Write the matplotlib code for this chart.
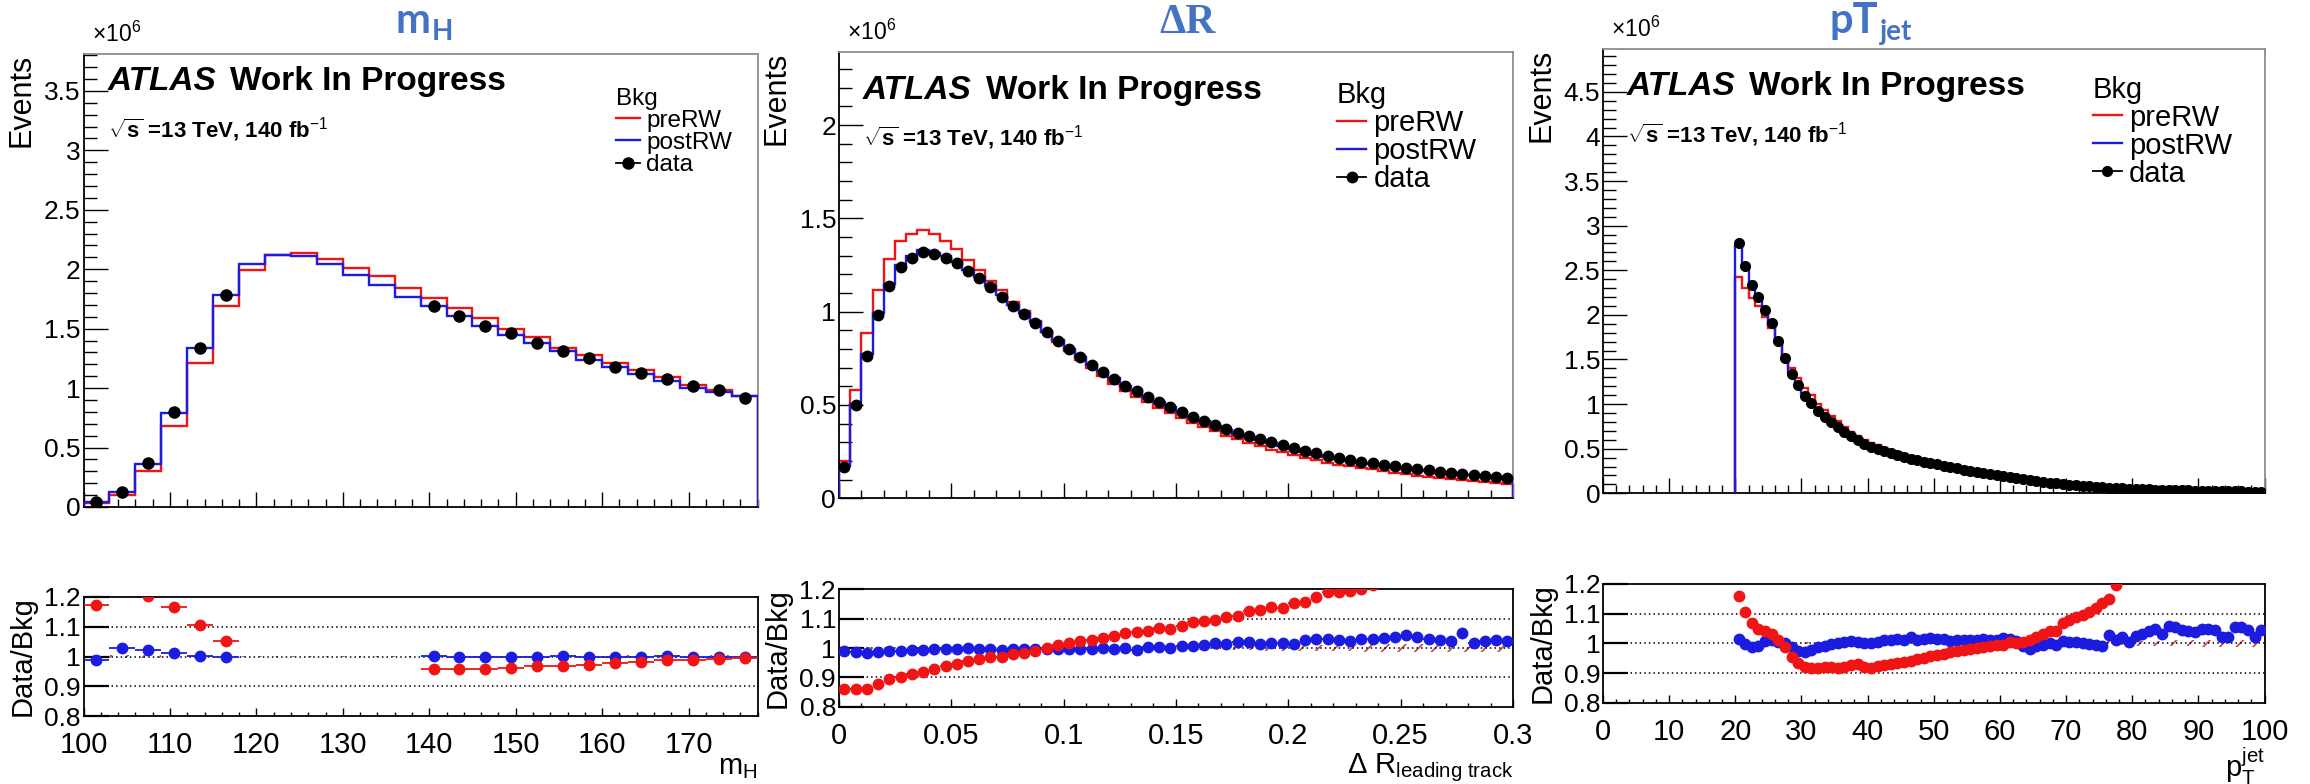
import numpy as np
import matplotlib

matplotlib.use("Agg")
import matplotlib.pyplot as plt
from matplotlib.lines import Line2D
from matplotlib.ticker import FuncFormatter, MultipleLocator

plt.rcParams["font.family"] = ["Liberation Sans", "DejaVu Sans"]
plt.rcParams["mathtext.fontset"] = "custom"
plt.rcParams["mathtext.rm"] = "Liberation Sans"
plt.rcParams["mathtext.it"] = "Liberation Sans:italic"
plt.rcParams["mathtext.bf"] = "Liberation Sans:bold"
plt.rcParams["hatch.linewidth"] = 1.2

RED = "#f01414"
BLUE = "#1c1ce0"
TITLE_BLUE = "#4472c4"
BAND = "#c04848"
NAN = np.nan

# ---- m_H: 26 bins of 3 GeV from 100 to 178 (events in units of 1e6) ----
mh_edges = np.arange(100, 179, 3)
mh_pre = [0.03, 0.10, 0.30, 0.68, 1.21, 1.69, 1.99, 2.12, 2.14, 2.09, 2.01, 1.94, 1.84,
          1.76, 1.67, 1.59, 1.50, 1.43, 1.34, 1.28, 1.21, 1.15, 1.09, 1.03, 0.98, 0.93]
mh_post = [0.04, 0.13, 0.36, 0.79, 1.34, 1.78, 2.04, 2.12, 2.11, 2.04, 1.95, 1.87, 1.77,
           1.69, 1.61, 1.52, 1.45, 1.38, 1.31, 1.24, 1.18, 1.12, 1.06, 1.00, 0.97, 0.93]
mh_data = [0.04, 0.13, 0.37, 0.80, 1.34, 1.78, NAN, NAN, NAN, NAN, NAN, NAN, NAN,
           1.69, 1.61, 1.52, 1.46, 1.38, 1.31, 1.25, 1.18, 1.13, 1.08, 1.02, 0.98, 0.92]
mh_ratio_pre = [1.172, 1.30, 1.205, 1.165, 1.106, 1.052, NAN, NAN, NAN, NAN, NAN, NAN, NAN,
                0.959, 0.959, 0.959, 0.963, 0.968, 0.968, 0.973, 0.979, 0.982, 0.989, 0.989,
                0.992, 0.996]
mh_ratio_post = [0.989, 1.027, 1.023, 1.012, 1.002, 0.997, NAN, NAN, NAN, NAN, NAN, NAN, NAN,
                 1.002, 0.997, 0.997, 0.997, 0.997, 1.003, 0.997, 0.997, 0.997, 1.003, 0.997,
                 0.997, 0.997]
mh_band = [0.004, 0.004, 0.004, 0.003, 0.003, 0.003, 0.003, 0.003, 0.003, 0.003, 0.003, 0.003,
           0.003, 0.003, 0.003, 0.003, 0.003, 0.003, 0.003, 0.003, 0.004, 0.004, 0.004, 0.004,
           0.004, 0.004]

# ---- Delta R: 60 bins of 0.005 from 0 to 0.3 ----
dr_edges = np.linspace(0.0, 0.3, 61)
dr_data = [0.17, 0.50, 0.76, 0.98, 1.14, 1.24, 1.29, 1.32, 1.31, 1.29,
           1.26, 1.22, 1.18, 1.13, 1.08, 1.03, 0.99, 0.94, 0.89, 0.845,
           0.80, 0.755, 0.714, 0.679, 0.64, 0.604, 0.575, 0.545, 0.518, 0.49,
           0.464, 0.438, 0.416, 0.393, 0.371, 0.352, 0.333, 0.316, 0.299, 0.283,
           0.268, 0.254, 0.241, 0.229, 0.218, 0.207, 0.197, 0.188, 0.179, 0.171,
           0.163, 0.156, 0.149, 0.142, 0.136, 0.130, 0.125, 0.120, 0.115, 0.110]
dr_pre = [0.198, 0.580, 0.886, 1.118, 1.280, 1.378, 1.418, 1.436, 1.415, 1.380,
          1.334, 1.277, 1.225, 1.166, 1.115, 1.053, 1.004, 0.948, 0.890, 0.838,
          0.789, 0.740, 0.697, 0.657, 0.615, 0.577, 0.545, 0.514, 0.484, 0.458,
          0.429, 0.403, 0.380, 0.358, 0.335, 0.317, 0.296, 0.279, 0.261, 0.247,
          0.231, 0.217, 0.204, 0.191, 0.181, 0.171, 0.162, 0.155, 0.146, 0.137,
          0.129, 0.122, 0.116, 0.109, 0.103, 0.097, 0.093, 0.088, 0.083, 0.079]
dr_post = [0.172, 0.506, 0.774, 0.994, 1.150, 1.251, 1.299, 1.329, 1.317, 1.296,
           1.264, 1.221, 1.184, 1.136, 1.088, 1.035, 0.993, 0.945, 0.892, 0.849,
           0.802, 0.757, 0.715, 0.680, 0.643, 0.604, 0.579, 0.544, 0.515, 0.490,
           0.461, 0.435, 0.412, 0.387, 0.366, 0.345, 0.326, 0.312, 0.294, 0.278,
           0.264, 0.247, 0.234, 0.222, 0.212, 0.202, 0.191, 0.182, 0.173, 0.165,
           0.156, 0.150, 0.145, 0.138, 0.133, 0.124, 0.123, 0.117, 0.112, 0.108]
dr_ratio_pre = [0.859, 0.859, 0.859, 0.877, 0.893, 0.900, 0.910, 0.919, 0.927, 0.939,
                0.945, 0.956, 0.963, 0.970, 0.968, 0.978, 0.984, 0.991, 1.001, 1.010,
                1.016, 1.024, 1.027, 1.034, 1.041, 1.050, 1.056, 1.057, 1.067, 1.064,
                1.076, 1.087, 1.093, 1.095, 1.107, 1.109, 1.126, 1.130, 1.139, 1.135,
                1.152, 1.158, 1.173, 1.190, 1.190, 1.194, 1.200, 1.215, 1.230, 1.245,
                1.260, 1.275, 1.290, 1.305, 1.320, 1.335, 1.350, 1.365, 1.380, 1.395]
dr_ratio_post = [0.991, 0.988, 0.982, 0.986, 0.991, 0.991, 0.993, 0.993, 0.995, 0.995,
                 0.997, 0.999, 0.997, 0.995, 0.993, 0.995, 0.997, 0.995, 0.998, 0.995,
                 0.997, 0.998, 0.998, 0.999, 0.995, 1.000, 0.993, 1.002, 1.005, 0.999,
                 1.007, 1.007, 1.010, 1.016, 1.014, 1.020, 1.020, 1.014, 1.016, 1.018,
                 1.014, 1.027, 1.032, 1.030, 1.027, 1.025, 1.030, 1.032, 1.033, 1.039,
                 1.043, 1.039, 1.030, 1.027, 1.023, 1.052, 1.016, 1.024, 1.027, 1.023]
dr_band = [0.004, 0.003, 0.003, 0.003, 0.003, 0.003, 0.003, 0.003, 0.003, 0.003,
           0.003, 0.003, 0.003, 0.003, 0.003, 0.004, 0.004, 0.004, 0.004, 0.004,
           0.004, 0.004, 0.005, 0.005, 0.005, 0.005, 0.005, 0.006, 0.006, 0.006,
           0.006, 0.007, 0.007, 0.007, 0.008, 0.008, 0.008, 0.009, 0.009, 0.009,
           0.010, 0.010, 0.010, 0.011, 0.011, 0.011, 0.012, 0.012, 0.012, 0.012,
           0.013, 0.013, 0.013, 0.013, 0.014, 0.014, 0.014, 0.014, 0.015, 0.015]

# ---- pT jet: 80 bins of 1 GeV from 20 to 100 ----
pt_edges = np.arange(20, 101, 1)
pt_data = [2.81, 2.55, 2.34, 2.20, 2.06, 1.91, 1.71, 1.52, 1.34, 1.21,
           1.09, 1.01, 0.92, 0.855, 0.795, 0.742, 0.682, 0.637, 0.592, 0.551,
           0.520, 0.495, 0.470, 0.450, 0.430, 0.410, 0.390, 0.370, 0.355, 0.340,
           0.325, 0.310, 0.295, 0.280, 0.265, 0.250, 0.237, 0.225, 0.212, 0.200,
           0.190, 0.178, 0.167, 0.157, 0.147, 0.137, 0.128, 0.120, 0.112, 0.105,
           0.098, 0.091, 0.085, 0.079, 0.074, 0.069, 0.064, 0.060, 0.056, 0.052,
           0.049, 0.046, 0.044, 0.042, 0.040, 0.038, 0.036, 0.034, 0.032, 0.030,
           0.028, 0.027, 0.026, 0.024, 0.023, 0.022, 0.021, 0.020, 0.019, 0.018]
pt_pre = [2.42, 2.30, 2.19, 2.10, 1.975, 1.853, 1.693, 1.540, 1.403, 1.297,
          1.183, 1.101, 1.003, 0.930, 0.865, 0.809, 0.740, 0.686, 0.637, 0.598,
          0.567, 0.537, 0.506, 0.484, 0.460, 0.437, 0.414, 0.391, 0.373, 0.355,
          0.338, 0.321, 0.304, 0.287, 0.271, 0.255, 0.241, 0.228, 0.214, 0.201,
          0.191, 0.178, 0.167, 0.156, 0.145, 0.134, 0.124, 0.115, 0.108, 0.098,
          0.091, 0.084, 0.078, 0.071, 0.066, 0.061, 0.056, 0.050, 0.046, 0.041,
          0.038, 0.035, 0.033, 0.030, 0.028, 0.026, 0.025, 0.023, 0.021, 0.019,
          0.018, 0.017, 0.016, 0.014, 0.014, 0.013, 0.012, 0.011, 0.010, 0.010]
pt_post = [2.77, 2.56, 2.37, 2.22, 2.045, 1.889, 1.700, 1.520, 1.355, 1.241,
           1.123, 1.033, 0.932, 0.862, 0.797, 0.742, 0.678, 0.632, 0.589, 0.550,
           0.520, 0.492, 0.465, 0.445, 0.424, 0.405, 0.382, 0.366, 0.350, 0.334,
           0.321, 0.306, 0.292, 0.277, 0.262, 0.247, 0.234, 0.222, 0.210, 0.198,
           0.187, 0.175, 0.166, 0.159, 0.150, 0.138, 0.129, 0.120, 0.113, 0.104,
           0.098, 0.091, 0.085, 0.079, 0.074, 0.070, 0.062, 0.059, 0.055, 0.052,
           0.048, 0.045, 0.042, 0.040, 0.039, 0.036, 0.034, 0.033, 0.031, 0.029,
           0.027, 0.026, 0.025, 0.024, 0.023, 0.021, 0.020, 0.019, 0.019, 0.017]
pt_ratio_pre = [1.161, 1.107, 1.067, 1.048, 1.043, 1.031, 1.010, 0.987, 0.955, 0.933,
                0.921, 0.917, 0.917, 0.919, 0.919, 0.917, 0.921, 0.928, 0.930, 0.921,
                0.917, 0.922, 0.928, 0.930, 0.935, 0.938, 0.942, 0.947, 0.952, 0.958,
                0.962, 0.965, 0.970, 0.975, 0.978, 0.981, 0.985, 0.989, 0.992, 0.993,
                0.995, 1.003, 1.002, 1.004, 1.011, 1.022, 1.031, 1.040, 1.040, 1.067,
                1.079, 1.088, 1.096, 1.107, 1.118, 1.135, 1.148, 1.195, 1.230, 1.260,
                1.290, 1.320, 1.350, 1.380, 1.410, 1.440, 1.470, 1.500, 1.530, 1.560,
                1.590, 1.620, 1.650, 1.680, 1.710, 1.740, 1.770, 1.800, 1.830, 1.860]
pt_ratio_post = [1.015, 0.998, 0.989, 0.991, 1.007, 1.011, 1.006, 1.000, 0.989, 0.975,
                 0.971, 0.978, 0.987, 0.992, 0.998, 1.000, 1.006, 1.008, 1.005, 1.002,
                 1.000, 1.006, 1.010, 1.011, 1.014, 1.012, 1.020, 1.012, 1.015, 1.018,
                 1.014, 1.013, 1.009, 1.012, 1.010, 1.012, 1.012, 1.014, 1.012, 1.010,
                 1.018, 1.015, 1.008, 0.990, 0.981, 0.992, 0.995, 1.000, 0.995, 1.008,
                 1.005, 1.003, 1.000, 0.998, 0.995, 0.990, 1.028, 1.010, 1.022, 1.003,
                 1.025, 1.030, 1.040, 1.048, 1.030, 1.060, 1.055, 1.045, 1.040, 1.038,
                 1.048, 1.050, 1.045, 1.020, 1.020, 1.056, 1.055, 1.045, 1.022, 1.045]
pt_band = [0.003, 0.003, 0.003, 0.003, 0.003, 0.003, 0.003, 0.003, 0.003, 0.003,
           0.003, 0.003, 0.003, 0.003, 0.003, 0.003, 0.003, 0.003, 0.003, 0.003,
           0.003, 0.003, 0.003, 0.003, 0.003, 0.003, 0.003, 0.003, 0.003, 0.003,
           0.003, 0.003, 0.003, 0.003, 0.003, 0.003, 0.003, 0.003, 0.003, 0.003,
           0.004, 0.004, 0.004, 0.004, 0.004, 0.004, 0.005, 0.005, 0.005, 0.005,
           0.005, 0.005, 0.006, 0.006, 0.006, 0.006, 0.007, 0.007, 0.007, 0.008,
           0.008, 0.008, 0.009, 0.009, 0.009, 0.010, 0.010, 0.010, 0.010, 0.011,
           0.011, 0.011, 0.011, 0.012, 0.012, 0.012, 0.012, 0.012, 0.012, 0.012]

W, H = 2310, 784


def px_rect(left, right, top, bottom):
    return [left / W, 1 - bottom / H, (right - left) / W, (bottom - top) / H]


PANELS = [
    dict(edges=mh_edges, pre=mh_pre, post=mh_post, data=mh_data,
         r_pre=mh_ratio_pre, r_post=mh_ratio_post, band=mh_band,
         main=px_rect(83.5, 757.7, 54, 507), ratio=px_rect(83.5, 757.7, 597, 716),
         ymax=3.81, xmaj=10, xmin=2, ms=8,
         atlas_y=0.92, sqrts_y=0.815, leg_xy=(0.79, 0.925), leg_fs=17.5,
         xlabel=r"m$_{\mathrm{H}}$", xlabel_y=-0.31),
    dict(edges=dr_edges, pre=dr_pre, post=dr_post, data=dr_data,
         r_pre=dr_ratio_pre, r_post=dr_ratio_post, band=dr_band,
         main=px_rect(838.8, 1513, 51.7, 498.3), ratio=px_rect(838.8, 1513, 589.3, 706.7),
         ymax=2.393, xmaj=0.05, xmin=0.01, ms=7.5,
         atlas_y=0.895, sqrts_y=0.79, leg_xy=(0.739, 0.935), leg_fs=21,
         xlabel=r"$\Delta$ R$_{\mathrm{leading\ track}}$", xlabel_y=-0.38),
    dict(edges=pt_edges, pre=pt_pre, post=pt_post, data=pt_data,
         r_pre=pt_ratio_pre, r_post=pt_ratio_post, band=pt_band,
         main=px_rect(1603, 2264.5, 49, 493.3), ratio=px_rect(1603, 2264.5, 584, 702.7),
         ymax=4.98, xmaj=10, xmin=2, ms=7,
         atlas_y=0.897, sqrts_y=0.79, leg_xy=(0.74, 0.94), leg_fs=21,
         xlabel=r"p$_{\mathrm{T}}^{\mathrm{jet}}$", xlabel_y=-0.36),
]


def g_fmt(v, _):
    return f"{v:g}"


def draw_panel(fig, p):
    ax = fig.add_axes(p["main"])
    rax = fig.add_axes(p["ratio"])
    edges = p["edges"]
    centers = 0.5 * (edges[:-1] + edges[1:])
    half = 0.5 * (edges[1] - edges[0])
    xlo, xhi = edges[0], edges[-1]
    if xlo == 20:
        xlo = 0

    # main panel
    ax.stairs(p["pre"], edges, baseline=0, color=RED, lw=1.7, zorder=2)
    ax.stairs(p["post"], edges, baseline=0, color=BLUE, lw=1.7, zorder=3)
    ax.plot(centers, p["data"], "o", color="black", ms=p["ms"], zorder=5)
    ax.set_xlim(xlo, xhi)
    ax.set_ylim(0, p["ymax"])
    ax.yaxis.set_major_locator(MultipleLocator(0.5))
    ax.yaxis.set_minor_locator(MultipleLocator(0.1))
    ax.yaxis.set_major_formatter(FuncFormatter(g_fmt))
    ax.xaxis.set_major_locator(MultipleLocator(p["xmaj"]))
    ax.xaxis.set_minor_locator(MultipleLocator(p["xmin"]))
    ax.tick_params(axis="y", which="major", direction="in", length=17, width=1.0,
                   labelsize=19, pad=2, right=False)
    ax.tick_params(axis="y", which="minor", direction="in", length=9, width=1.0, right=False)
    ax.tick_params(axis="x", which="major", direction="in", length=11, width=1.0,
                   labelbottom=False, top=False)
    ax.tick_params(axis="x", which="minor", direction="in", length=6, width=1.0, top=False)
    for side in ("top", "right"):
        ax.spines[side].set_color("#8c8c8c")
    for sp in ax.spines.values():
        sp.set_linewidth(1.3)
    ax.set_ylabel("Events", loc="top", fontsize=22)
    ax.yaxis.set_label_coords(-0.07, 1.0)
    ax.text(0.012, 1.015, "×10$^{6}$", transform=ax.transAxes, fontsize=16.5,
            ha="left", va="bottom")

    atlas = ax.text(0.036, p["atlas_y"], "ATLAS", transform=ax.transAxes, fontsize=24,
                    fontweight="bold", fontstyle="italic", va="baseline")
    ax.annotate("Work In Progress", xy=(1, 0), xycoords=atlas, xytext=(10, 0),
                textcoords="offset points", fontsize=24, fontweight="bold", va="bottom")
    ax.text(0.036, p["sqrts_y"], r"$\sqrt{\mathbf{s}}$ =13 TeV, 140 fb$^{-1}$",
            transform=ax.transAxes, fontsize=16, fontweight="bold", va="baseline")

    handles = [Line2D([], [], color=RED, lw=1.7),
               Line2D([], [], color=BLUE, lw=1.7),
               Line2D([], [], color="black", lw=1.3, marker="o", ms=p["ms"])]
    ax.legend(handles, ["preRW", "postRW", "data"], title="Bkg", loc="upper left",
              bbox_to_anchor=p["leg_xy"], frameon=False, fontsize=p["leg_fs"],
              title_fontsize=p["leg_fs"], alignment="left", handlelength=1.0,
              handletextpad=0.25, labelspacing=0.0, borderpad=0, borderaxespad=0)

    # ratio panel
    band = np.asarray(p["band"])
    lo = np.r_[1 - band, 1 - band[-1]]
    hi = np.r_[1 + band, 1 + band[-1]]
    rax.fill_between(edges, lo, hi, step="post", facecolor="none", edgecolor=BAND,
                     hatch="//", linewidth=0, zorder=1)
    for yref in (0.9, 1.0, 1.1):
        rax.axhline(yref, color="black", ls=(0, (1, 2)), lw=1.1, zorder=1)
    rax.errorbar(centers, p["r_post"], xerr=half, fmt="o", color=BLUE, ms=7.5,
                 elinewidth=1.3, capsize=0, zorder=3)
    rax.errorbar(centers, p["r_pre"], xerr=half, fmt="o", color=RED, ms=7.5,
                 elinewidth=1.3, capsize=0, zorder=4)
    rax.set_xlim(xlo, xhi)
    rax.set_ylim(0.8, 1.2)
    rax.yaxis.set_major_locator(MultipleLocator(0.1))
    rax.yaxis.set_major_formatter(FuncFormatter(g_fmt))
    rax.xaxis.set_major_locator(MultipleLocator(p["xmaj"]))
    rax.xaxis.set_minor_locator(MultipleLocator(p["xmin"]))
    rax.xaxis.set_major_formatter(FuncFormatter(g_fmt))
    rax.tick_params(axis="y", which="major", direction="in", length=18, width=1.6,
                    labelsize=19, pad=2, right=False)
    rax.tick_params(axis="x", which="major", direction="in", length=6, width=1.0,
                    labelsize=21, pad=11, top=False)
    rax.tick_params(axis="x", which="minor", direction="in", length=3, width=1.0, top=False)
    for sp in rax.spines.values():
        sp.set_linewidth(1.3)
    rax.set_ylabel("Data/Bkg", fontsize=21)
    rax.yaxis.set_label_coords(-0.07, 0.5)
    rax.set_xlabel(p["xlabel"], loc="right", fontsize=21)
    rax.xaxis.set_label_coords(1.0, p["xlabel_y"])
    return ax


fig = plt.figure(figsize=(W / 100, H / 100), dpi=100)
axes = [draw_panel(fig, p) for p in PANELS]

# blue titles above each panel
t1 = fig.text(0.171, 0.958, "m", fontsize=30, fontweight="bold", color=TITLE_BLUE,
              family=["Lato", "DejaVu Sans"], va="baseline")
axes[0].annotate("H", xy=(1, 0), xycoords=t1, xytext=(1, 0), textcoords="offset points",
                 fontsize=20, fontweight="bold", color=TITLE_BLUE,
                 family=["Lato", "DejaVu Sans"], va="baseline", annotation_clip=False)
fig.text(0.502, 0.958, "ΔR", fontsize=30, fontweight="bold", color=TITLE_BLUE,
         family=["Liberation Serif", "DejaVu Serif"], va="baseline")
t3 = fig.text(0.792, 0.958, "pT", fontsize=30, fontweight="bold", color=TITLE_BLUE,
              family=["Lato", "DejaVu Sans"], va="baseline")
axes[2].annotate("jet", xy=(1, 0), xycoords=t3, xytext=(1, 0), textcoords="offset points",
                 fontsize=20, fontweight="bold", color=TITLE_BLUE,
                 family=["Lato", "DejaVu Sans"], va="baseline", annotation_clip=False)

fig.savefig("out.png", dpi=100)
